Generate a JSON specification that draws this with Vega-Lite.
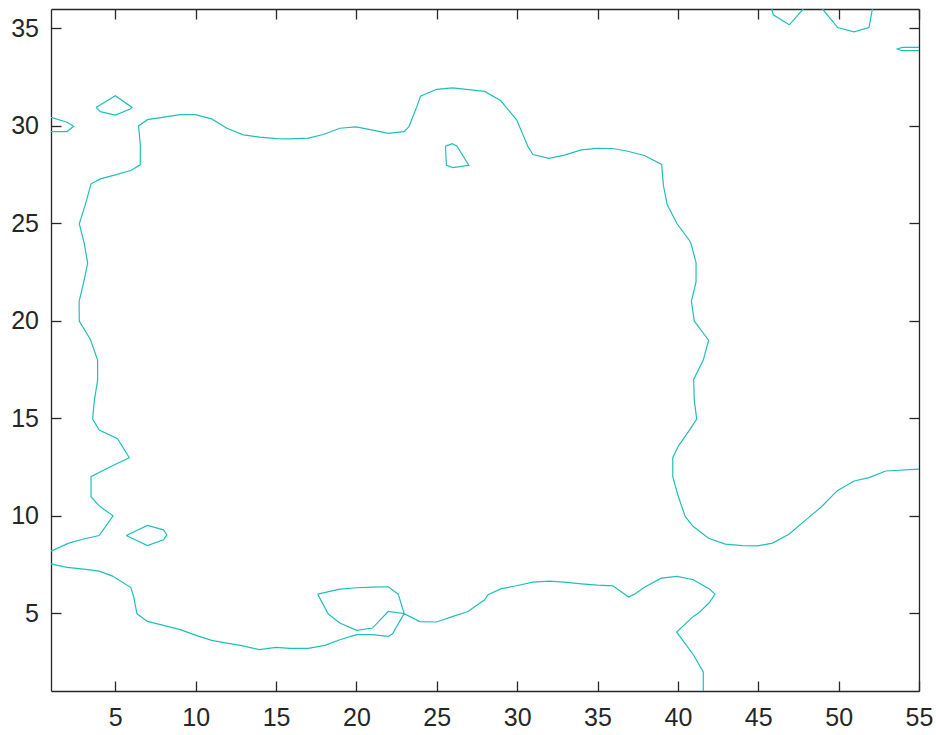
{
  "$schema": "https://vega.github.io/schema/vega-lite/v6.json",
  "autosize": {"type": "none"},
  "padding": {"left": 51, "top": 9, "right": 17, "bottom": 44},
  "width": 868,
  "height": 682,
  "background": "white",
  "config": {
    "view": {"stroke": null},
    "axis": {
      "domainColor": "#262626",
      "domainWidth": 1.3,
      "tickColor": "#262626",
      "tickWidth": 1.3,
      "tickSize": -10,
      "labelFont": "Liberation Sans",
      "labelFontSize": 25,
      "labelColor": "#262626",
      "grid": false,
      "title": null
    }
  },
  "data": {"values": [
    {"p":"A","x":1.0,"y":8.18},{"p":"A","x":2.1,"y":8.59},{"p":"A","x":3.03,"y":8.8},{"p":"A","x":4.0,"y":8.98},{"p":"A","x":4.86,"y":9.99},{"p":"A","x":4.0,"y":10.5},{"p":"A","x":3.49,"y":10.97},{"p":"A","x":3.49,"y":12.0},{"p":"A","x":4.69,"y":12.51},{"p":"A","x":5.87,"y":12.97},{"p":"A","x":5.14,"y":13.95},{"p":"A","x":4.0,"y":14.39},{"p":"A","x":3.59,"y":14.95},{"p":"A","x":3.7,"y":15.93},{"p":"A","x":3.9,"y":16.95},{"p":"A","x":3.9,"y":17.98},{"p":"A","x":3.45,"y":19.04},{"p":"A","x":2.76,"y":19.99},{"p":"A","x":2.75,"y":21.0},{"p":"A","x":3.03,"y":21.96},{"p":"A","x":3.28,"y":22.96},{"p":"A","x":3.07,"y":23.96},{"p":"A","x":2.76,"y":24.98},{"p":"A","x":3.14,"y":25.97},{"p":"A","x":3.49,"y":27.03},{"p":"A","x":4.07,"y":27.28},{"p":"A","x":5.0,"y":27.49},{"p":"A","x":5.97,"y":27.71},{"p":"A","x":6.55,"y":28.0},{"p":"A","x":6.56,"y":29.0},{"p":"A","x":6.45,"y":30.0},{"p":"A","x":7.0,"y":30.32},{"p":"A","x":9.04,"y":30.58},{"p":"A","x":9.97,"y":30.58},{"p":"A","x":11.0,"y":30.36},{"p":"A","x":11.94,"y":29.88},{"p":"A","x":12.97,"y":29.54},{"p":"A","x":14.0,"y":29.42},{"p":"A","x":15.04,"y":29.35},{"p":"A","x":15.87,"y":29.33},{"p":"A","x":17.0,"y":29.37},{"p":"A","x":17.94,"y":29.56},{"p":"A","x":18.97,"y":29.88},{"p":"A","x":19.97,"y":29.95},{"p":"A","x":20.94,"y":29.8},{"p":"A","x":21.98,"y":29.62},{"p":"A","x":22.97,"y":29.71},{"p":"A","x":23.28,"y":29.98},{"p":"A","x":23.74,"y":30.95},{"p":"A","x":23.99,"y":31.53},{"p":"A","x":24.98,"y":31.88},{"p":"A","x":25.98,"y":31.95},{"p":"A","x":26.99,"y":31.86},{"p":"A","x":27.98,"y":31.77},{"p":"A","x":28.97,"y":31.3},{"p":"A","x":29.97,"y":30.31},{"p":"A","x":30.67,"y":28.94},{"p":"A","x":30.98,"y":28.53},{"p":"A","x":31.98,"y":28.33},{"p":"A","x":32.95,"y":28.5},{"p":"A","x":33.99,"y":28.77},{"p":"A","x":34.98,"y":28.85},{"p":"A","x":35.95,"y":28.84},{"p":"A","x":36.88,"y":28.7},{"p":"A","x":37.92,"y":28.48},{"p":"A","x":38.99,"y":28.02},{"p":"A","x":39.1,"y":26.94},{"p":"A","x":39.33,"y":25.97},{"p":"A","x":39.95,"y":24.98},{"p":"A","x":40.72,"y":24.12},{"p":"A","x":40.82,"y":23.95},{"p":"A","x":41.13,"y":22.98},{"p":"A","x":41.13,"y":21.99},{"p":"A","x":40.84,"y":21.0},{"p":"A","x":41.02,"y":19.98},{"p":"A","x":41.91,"y":19.0},{"p":"A","x":41.58,"y":17.98},{"p":"A","x":40.98,"y":16.99},{"p":"A","x":41.02,"y":15.93},{"p":"A","x":41.17,"y":14.95},{"p":"A","x":40.72,"y":14.39},{"p":"A","x":40.03,"y":13.57},{"p":"A","x":39.68,"y":12.97},{"p":"A","x":39.68,"y":12.0},{"p":"A","x":40.03,"y":10.97},{"p":"A","x":40.46,"y":9.95},{"p":"A","x":40.96,"y":9.44},{"p":"A","x":41.91,"y":8.84},{"p":"A","x":42.95,"y":8.54},{"p":"A","x":44.02,"y":8.46},{"p":"A","x":44.96,"y":8.45},{"p":"A","x":45.89,"y":8.59},{"p":"A","x":46.93,"y":9.06},{"p":"A","x":47.96,"y":9.78},{"p":"A","x":48.9,"y":10.43},{"p":"A","x":49.92,"y":11.28},{"p":"A","x":50.96,"y":11.78},{"p":"A","x":51.89,"y":11.95},{"p":"A","x":52.93,"y":12.29},{"p":"A","x":55.0,"y":12.39},
    {"p":"B","x":1.0,"y":7.52},{"p":"B","x":2.0,"y":7.34},{"p":"B","x":3.03,"y":7.25},{"p":"B","x":4.0,"y":7.15},{"p":"B","x":4.8,"y":6.91},{"p":"B","x":5.97,"y":6.31},{"p":"B","x":6.14,"y":5.85},{"p":"B","x":6.35,"y":4.96},{"p":"B","x":7.0,"y":4.57},{"p":"B","x":8.0,"y":4.37},{"p":"B","x":9.04,"y":4.15},{"p":"B","x":10.07,"y":3.84},{"p":"B","x":11.0,"y":3.6},{"p":"B","x":11.94,"y":3.46},{"p":"B","x":12.87,"y":3.33},{"p":"B","x":13.96,"y":3.12},{"p":"B","x":15.0,"y":3.24},{"p":"B","x":15.87,"y":3.19},{"p":"B","x":17.0,"y":3.19},{"p":"B","x":18.04,"y":3.34},{"p":"B","x":18.97,"y":3.63},{"p":"B","x":20.01,"y":3.89},{"p":"B","x":21.0,"y":3.89},{"p":"B","x":21.98,"y":3.8},{"p":"B","x":22.25,"y":3.94},{"p":"B","x":22.97,"y":4.97},{"p":"B","x":23.94,"y":4.56},{"p":"B","x":24.98,"y":4.54},{"p":"B","x":26.01,"y":4.83},{"p":"B","x":26.94,"y":5.08},{"p":"B","x":27.98,"y":5.68},{"p":"B","x":28.19,"y":5.94},{"p":"B","x":29.02,"y":6.25},{"p":"B","x":29.95,"y":6.4},{"p":"B","x":30.98,"y":6.59},{"p":"B","x":31.98,"y":6.64},{"p":"B","x":32.95,"y":6.59},{"p":"B","x":33.99,"y":6.5},{"p":"B","x":34.98,"y":6.43},{"p":"B","x":35.95,"y":6.4},{"p":"B","x":36.94,"y":5.82},{"p":"B","x":37.3,"y":5.97},{"p":"B","x":37.92,"y":6.33},{"p":"B","x":38.96,"y":6.79},{"p":"B","x":39.95,"y":6.88},{"p":"B","x":40.96,"y":6.71},{"p":"B","x":41.96,"y":6.23},{"p":"B","x":42.31,"y":5.97},{"p":"B","x":41.96,"y":5.54},{"p":"B","x":41.29,"y":5.0},{"p":"B","x":40.96,"y":4.83},{"p":"B","x":39.92,"y":4.03},{"p":"B","x":40.96,"y":2.86},{"p":"B","x":41.58,"y":1.98},{"p":"B","x":41.58,"y":1.0},
    {"p":"C","x":17.59,"y":5.97},{"p":"C","x":18.97,"y":6.23},{"p":"C","x":20.01,"y":6.3},{"p":"C","x":21.0,"y":6.33},{"p":"C","x":21.98,"y":6.35},{"p":"C","x":22.6,"y":5.97},{"p":"C","x":22.97,"y":4.97},{"p":"C","x":21.98,"y":5.08},{"p":"C","x":21.0,"y":4.23},{"p":"C","x":20.01,"y":4.11},{"p":"C","x":18.97,"y":4.49},{"p":"C","x":18.25,"y":4.95},{"p":"C","x":17.59,"y":5.97},
    {"p":"D","x":3.8,"y":30.95},{"p":"D","x":5.0,"y":31.55},{"p":"D","x":6.04,"y":30.95},{"p":"D","x":5.93,"y":30.87},{"p":"D","x":5.0,"y":30.56},{"p":"D","x":4.07,"y":30.73},{"p":"D","x":3.8,"y":30.95},
    {"p":"E","x":1.0,"y":30.44},{"p":"E","x":2.0,"y":30.19},{"p":"E","x":2.41,"y":29.98},{"p":"E","x":2.0,"y":29.71},{"p":"E","x":1.0,"y":29.71},
    {"p":"F","x":25.54,"y":28.96},{"p":"F","x":25.97,"y":29.09},{"p":"F","x":26.26,"y":28.96},{"p":"F","x":26.99,"y":27.98},{"p":"F","x":26.01,"y":27.86},{"p":"F","x":25.6,"y":27.98},{"p":"F","x":25.54,"y":28.96},
    {"p":"G","x":5.68,"y":8.98},{"p":"G","x":7.0,"y":9.5},{"p":"G","x":8.0,"y":9.27},{"p":"G","x":8.21,"y":9.01},{"p":"G","x":8.0,"y":8.76},{"p":"G","x":7.0,"y":8.46},{"p":"G","x":5.68,"y":8.98},
    {"p":"H","x":45.85,"y":36.0},{"p":"H","x":45.93,"y":35.7},{"p":"H","x":46.93,"y":35.19},{"p":"H","x":47.8,"y":36.0},
    {"p":"I","x":49.0,"y":36.0},{"p":"I","x":49.94,"y":35.05},{"p":"I","x":50.96,"y":34.83},{"p":"I","x":51.89,"y":35.05},{"p":"I","x":52.1,"y":36.0},
    {"p":"J","x":55.0,"y":34.03},{"p":"J","x":53.96,"y":34.03},{"p":"J","x":53.65,"y":33.95},{"p":"J","x":53.93,"y":33.86},{"p":"J","x":55.0,"y":33.86}
  ]},
  "layer": [
    {
      "mark": {"type": "line", "color": "#1fc0b8", "strokeWidth": 1.2, "clip": true},
      "encoding": {
        "x": {"field": "x", "type": "quantitative", "scale": {"domain": [1, 55], "nice": false, "zero": false},
              "axis": {"orient": "bottom", "values": [5,10,15,20,25,30,35,40,45,50,55], "labelPadding": 24, "labelFlush": false}},
        "y": {"field": "y", "type": "quantitative", "scale": {"domain": [1, 36], "nice": false, "zero": false},
              "axis": {"orient": "left", "values": [5,10,15,20,25,30,35], "labelPadding": 22.5}},
        "detail": {"field": "p", "type": "nominal"},
        "order": {"value": null}
      }
    },
    {
      "mark": {"type": "line", "opacity": 0, "clip": true},
      "encoding": {
        "x": {"field": "x", "type": "quantitative",
              "axis": {"orient": "top", "values": [5,10,15,20,25,30,35,40,45,50,55], "labels": false}},
        "y": {"field": "y", "type": "quantitative",
              "axis": {"orient": "right", "values": [5,10,15,20,25,30,35], "labels": false}},
        "detail": {"field": "p", "type": "nominal"},
        "order": {"value": null}
      }
    }
  ],
  "resolve": {"axis": {"x": "independent", "y": "independent"}}
}
